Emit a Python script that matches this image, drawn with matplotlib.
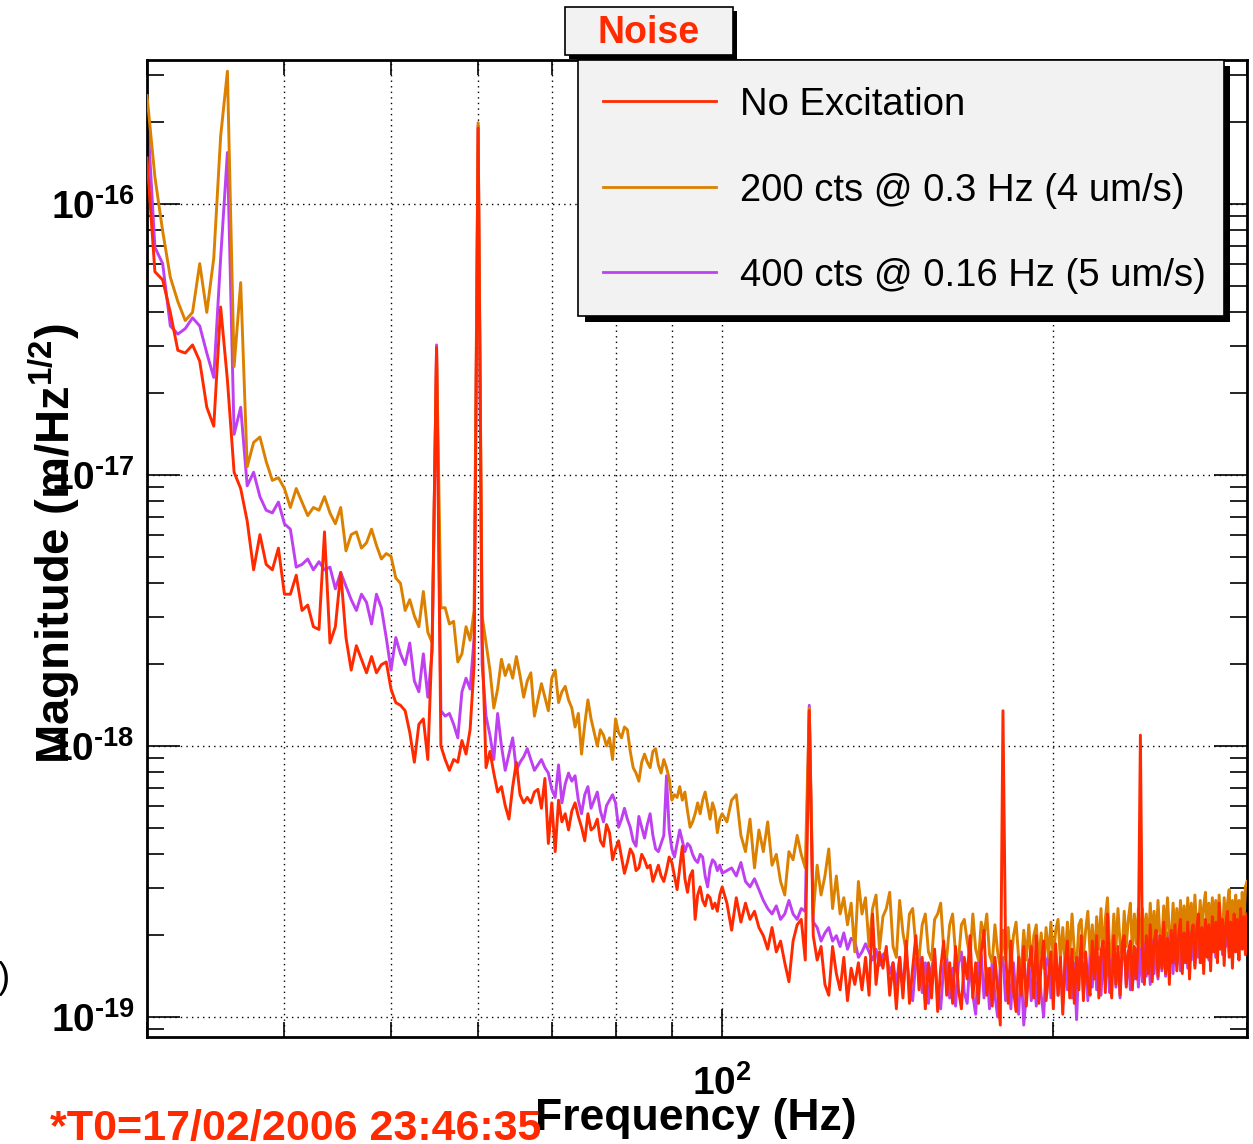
import matplotlib
matplotlib.use('Agg')
import matplotlib.pyplot as plt
from matplotlib.patches import Rectangle
from matplotlib.lines import Line2D
from matplotlib.ticker import FixedLocator, NullFormatter, FixedFormatter
import numpy as np

plt.rcParams['font.family'] = ['Liberation Sans', 'DejaVu Sans']
plt.rcParams['mathtext.fontset'] = 'custom'
plt.rcParams['mathtext.rm'] = 'Liberation Sans:bold'
plt.rcParams['mathtext.bf'] = 'Liberation Sans:bold'
plt.rcParams['mathtext.it'] = 'Liberation Sans:bold'

# ---------------- data (log10 of magnitude, m/Hz^1/2) ----------------
freq_a = [30.0, 30.5, 31.0, 31.5, 32.0, 32.5, 33.0, 33.5, 34.0, 34.5,
          35.0, 35.5, 36.0, 36.5, 37.0, 37.5, 38.0, 38.5, 39.0, 39.5,
          40.0, 40.5, 41.0, 41.5, 42.0, 42.5, 43.0, 43.5, 44.0, 44.5,
          45.0, 45.5, 46.0, 46.5, 47.0, 47.5, 48.0, 48.5, 49.0, 49.5,
          50.0, 50.5, 51.0, 51.5, 52.0, 52.5, 53.0, 53.5, 54.0, 54.5,
          55.0, 55.5, 56.0, 56.5, 57.0, 57.5, 58.0, 58.5, 59.0, 59.5,
          60.0]
freq_b = [60.5, 61.0, 61.5, 62.0, 62.5, 63.0, 63.5, 64.0, 64.5, 65.0,
          65.5, 66.0, 66.5, 67.0, 67.5, 68.0, 68.5, 69.0, 69.5, 70.0,
          70.5, 71.0, 71.5, 72.0, 72.5, 73.0, 73.5, 74.0, 74.5, 75.0,
          75.5, 76.0, 76.5, 77.0, 77.5, 78.0, 78.5, 79.0, 79.5, 80.0,
          80.5, 81.0, 81.5, 82.0, 82.5, 83.0, 83.5, 84.0, 84.5, 85.0,
          85.5, 86.0, 86.5, 87.0, 87.5, 88.0, 88.5, 89.0, 89.5, 90.0,
          90.5, 91.0, 91.5, 92.0, 92.5, 93.0, 93.5, 94.0, 94.5, 95.0,
          95.5, 96.0, 96.5, 97.0, 97.5, 98.0, 98.5, 99.0, 99.5, 100.0]
freq_c = [101, 102, 103, 104, 105, 106, 107, 108, 109, 110,
          111, 112, 113, 114, 115, 116, 117, 118, 119, 120,
          121, 122, 123, 124, 125, 126, 127, 128, 129, 130,
          131, 132, 133, 134, 135, 136, 137, 138, 139, 140,
          141, 142, 143, 144, 145, 146, 147, 148, 149, 150,
          151, 152, 153, 154, 155, 156, 157, 158, 159, 160,
          161, 162, 163, 164, 165, 166, 167, 168, 169, 170,
          171, 172, 173, 174, 175, 176, 177, 178, 179, 180,
          181, 182, 183, 184, 185, 186, 187, 188, 189, 190,
          191, 192, 193, 194, 195, 196, 197, 198, 199, 200,
          201, 202, 203, 204, 205, 206, 207, 208, 209, 210,
          211, 212, 213, 214, 215, 216, 217, 218, 219, 220,
          221, 222, 223, 224, 225, 226, 227, 228, 229, 230,
          231, 232, 233, 234, 235, 236, 237, 238, 239, 240,
          241, 242, 243, 244, 245, 246, 247, 248, 249, 250,
          251, 252, 253, 254, 255, 256, 257, 258, 259, 260,
          261, 262, 263, 264, 265, 266, 267, 268, 269, 270,
          271, 272, 273, 274, 275, 276, 277, 278, 279, 280,
          281, 282, 283, 284, 285, 286, 287, 288, 289, 290,
          291, 292, 293, 294, 295, 296, 297, 298, 299, 300]

# No Excitation (red)
red_a = [-15.83, -16.25, -16.28, -16.40, -16.54, -16.55, -16.52, -16.58, -16.75, -16.82,
         -16.38, -16.65, -16.99, -17.05, -17.17, -17.35, -17.22, -17.33, -17.35, -17.27,
         -17.44, -17.44, -17.37, -17.50, -17.48, -17.56, -17.57, -17.21, -17.62, -17.56,
         -17.36, -17.60, -17.72, -17.63, -17.68, -17.73, -17.67, -17.73, -17.70, -17.69,
         -17.79, -17.84, -17.85, -17.87, -17.95, -18.06, -17.92, -17.90, -18.05, -17.60,
         -16.53, -18.00, -18.05, -18.09, -18.05, -18.06, -17.98, -18.03, -17.94, -17.70,
         -15.72]
red_b = [-17.60, -18.08, -18.02, -18.10, -18.17, -18.15, -18.22, -18.27, -18.15, -18.06,
         -18.18, -18.21, -18.19, -18.21, -18.17, -18.16, -18.23, -18.12, -18.36, -18.21,
         -18.39, -18.20, -18.28, -18.25, -18.31, -18.24, -18.21, -18.26, -18.30, -18.35,
         -18.25, -18.31, -18.30, -18.27, -18.35, -18.37, -18.29, -18.32, -18.42, -18.38,
         -18.35, -18.41, -18.47, -18.43, -18.38, -18.40, -18.46, -18.45, -18.40, -18.42,
         -18.45, -18.44, -18.50, -18.47, -18.44, -18.48, -18.50, -18.46, -18.41, -18.43,
         -18.48, -18.53, -18.45, -18.37, -18.49, -18.54, -18.48, -18.46, -18.64, -18.55,
         -18.52, -18.57, -18.59, -18.55, -18.56, -18.60, -18.58, -18.61, -18.55, -18.52]
red_c = [-18.58, -18.68, -18.56, -18.65, -18.58, -18.64, -18.61, -18.67, -18.70, -18.75,
         -18.67, -18.76, -18.72, -18.80, -18.87, -18.72, -18.66, -18.64, -18.79, -17.87,
         -18.70, -18.79, -18.74, -18.88, -18.92, -18.74, -18.84, -18.90, -18.78, -18.94,
         -18.82, -18.88, -18.80, -18.90, -18.78, -18.92, -18.62, -18.88, -18.76, -18.82,
         -18.74, -18.92, -18.80, -18.97, -18.78, -18.93, -18.72, -18.95, -18.82, -18.70,
         -18.90, -18.78, -18.97, -18.80, -18.93, -18.75, -18.98, -18.82, -18.72, -18.92,
         -18.80, -18.95, -18.74, -18.90, -18.97, -18.78, -18.86, -18.70, -18.93, -18.80,
         -18.95, -18.76, -18.68, -18.92, -18.82, -18.96, -18.78, -18.90, -19.03, -17.87,
         -18.76, -18.95, -18.72, -18.90, -18.98, -18.78, -18.92, -18.74, -18.96, -18.82,
         -18.74, -18.93, -18.70, -18.95, -18.80, -18.72, -18.94, -18.85, -18.76, -18.97,
         -18.73, -18.92, -18.78, -18.99, -18.80, -18.72, -18.93, -18.75, -18.95, -18.78,
         -18.90, -18.70, -18.94, -18.76, -18.88, -18.92, -18.72, -18.86, -18.70, -18.93,
         -18.76, -18.72, -18.91, -18.62, -18.84, -18.93, -18.70, -18.88, -18.74, -18.92,
         -18.73, -18.70, -18.89, -18.76, -18.72, -18.90, -18.74, -18.86, -18.70, -17.96,
         -18.76, -18.88, -18.70, -18.84, -18.66, -18.87, -18.72, -18.68, -18.85, -18.70,
         -18.82, -18.65, -18.84, -18.71, -18.88, -18.68, -18.80, -18.66, -18.83, -18.70,
         -18.64, -18.84, -18.69, -18.80, -18.65, -18.86, -18.70, -18.66, -18.82, -18.68,
         -18.62, -18.80, -18.67, -18.84, -18.64, -18.78, -18.66, -18.83, -18.63, -18.76,
         -18.65, -18.80, -18.58, -18.75, -18.64, -18.81, -18.66, -18.61, -18.78, -18.65,
         -18.82, -18.62, -18.76, -18.64, -18.79, -18.60, -18.75, -18.63, -18.77, -18.62]

# 200 cts @ 0.3 Hz (orange)
orange_a = [-15.60, -15.90, -16.10, -16.27, -16.36, -16.43, -16.40, -16.22, -16.40, -16.20,
            -15.75, -15.51, -16.60, -16.29, -16.97, -16.88, -16.86, -16.95, -17.02, -17.01,
            -17.05, -17.12, -17.05, -17.10, -17.15, -17.12, -17.13, -17.08, -17.14, -17.18,
            -17.12, -17.28, -17.22, -17.21, -17.27, -17.25, -17.20, -17.26, -17.31, -17.29,
            -17.30, -17.38, -17.40, -17.50, -17.46, -17.52, -17.56, -17.43, -17.58, -17.62,
            -16.54, -17.49, -17.49, -17.55, -17.54, -17.69, -17.66, -17.56, -17.61, -17.50,
            -15.70]
orange_b = [-17.52, -17.62, -17.72, -17.86, -17.79, -17.68, -17.74, -17.70, -17.75, -17.67,
            -17.74, -17.82, -17.76, -17.73, -17.89, -17.83, -17.77, -17.82, -17.87, -17.75,
            -17.72, -17.84, -17.80, -17.78, -17.83, -17.86, -17.93, -17.88, -18.03, -17.92,
            -17.83, -17.90, -17.95, -18.00, -17.94, -17.96, -18.00, -17.97, -18.05, -17.90,
            -17.95, -17.97, -17.93, -17.94, -18.02, -18.08, -18.10, -18.13, -18.06, -18.03,
            -18.06, -18.08, -18.02, -18.01, -18.07, -18.10, -18.05, -18.08, -18.12, -18.20,
            -18.18, -18.19, -18.15, -18.20, -18.17, -18.24, -18.30, -18.28, -18.25, -18.21,
            -18.25, -18.20, -18.17, -18.22, -18.27, -18.21, -18.24, -18.32, -18.27, -18.25]
orange_c = [-18.28, -18.20, -18.18, -18.33, -18.39, -18.27, -18.45, -18.31, -18.39, -18.28,
            -18.44, -18.40, -18.50, -18.55, -18.39, -18.42, -18.33, -18.40, -18.45, -17.86,
            -18.62, -18.44, -18.55, -18.48, -18.38, -18.60, -18.48, -18.62, -18.56, -18.66,
            -18.58, -18.76, -18.50, -18.62, -18.56, -18.74, -18.60, -18.55, -18.75, -18.63,
            -18.60, -18.54, -18.74, -18.78, -18.57, -18.69, -18.76, -18.62, -18.60, -18.74,
            -18.78, -18.66, -18.62, -18.76, -18.79, -18.64, -18.62, -18.58, -18.75, -18.78,
            -18.66, -18.62, -18.77, -18.79, -18.66, -18.64, -18.72, -18.78, -18.62, -18.75,
            -18.79, -18.65, -18.70, -18.62, -18.77, -18.80, -18.66, -18.76, -18.82, -18.68,
            -18.79, -18.67, -18.81, -18.70, -18.65, -18.78, -18.83, -18.68, -18.79, -18.66,
            -18.81, -18.70, -18.66, -18.80, -18.69, -18.82, -18.67, -18.78, -18.65, -18.79,
            -18.68, -18.64, -18.79, -18.67, -18.80, -18.65, -18.77, -18.62, -18.76, -18.81,
            -18.66, -18.64, -18.78, -18.68, -18.61, -18.77, -18.66, -18.79, -18.63, -18.75,
            -18.60, -18.77, -18.64, -18.56, -18.74, -18.78, -18.62, -18.75, -18.60, -18.73,
            -18.77, -18.61, -18.74, -18.64, -18.58, -18.76, -18.62, -18.73, -18.60, -18.74,
            -18.60, -18.72, -18.62, -18.75, -18.58, -18.71, -18.61, -18.74, -18.57, -18.70,
            -18.73, -18.59, -18.71, -18.56, -18.69, -18.72, -18.58, -18.70, -18.60, -18.73,
            -18.57, -18.69, -18.59, -18.72, -18.56, -18.68, -18.58, -18.71, -18.55, -18.67,
            -18.69, -18.57, -18.70, -18.59, -18.54, -18.68, -18.58, -18.71, -18.56, -18.67,
            -18.57, -18.69, -18.55, -18.66, -18.71, -18.56, -18.68, -18.58, -18.53, -18.67,
            -18.57, -18.69, -18.55, -18.66, -18.57, -18.68, -18.54, -18.65, -18.52, -18.50]

# 400 cts @ 0.16 Hz (purple)
purple_a = [-15.64, -16.16, -16.22, -16.45, -16.48, -16.46, -16.42, -16.45, -16.55, -16.64,
            -16.20, -15.81, -16.85, -16.75, -17.04, -16.99, -17.08, -17.13, -17.14, -17.10,
            -17.18, -17.20, -17.34, -17.33, -17.31, -17.35, -17.32, -17.35, -17.34, -17.42,
            -17.36, -17.41, -17.46, -17.50, -17.44, -17.47, -17.55, -17.44, -17.49, -17.60,
            -17.72, -17.60, -17.66, -17.70, -17.62, -17.76, -17.80, -17.66, -17.82, -17.65,
            -16.52, -17.87, -17.89, -17.88, -17.92, -17.97, -17.80, -17.75, -17.79, -17.60,
            -15.71]
purple_b = [-17.70, -17.89, -17.96, -18.05, -17.88, -18.00, -18.09, -18.03, -17.97, -18.09,
            -18.06, -18.04, -18.01, -18.05, -18.09, -18.07, -18.05, -18.08, -18.10, -18.16,
            -18.19, -18.07, -18.21, -18.14, -18.10, -18.13, -18.11, -18.20, -18.25, -18.18,
            -18.15, -18.23, -18.20, -18.17, -18.24, -18.28, -18.22, -18.20, -18.18, -18.21,
            -18.30, -18.27, -18.23, -18.27, -18.30, -18.35, -18.37, -18.26, -18.30, -18.34,
            -18.29, -18.25, -18.33, -18.38, -18.39, -18.36, -18.33, -18.11, -18.31, -18.38,
            -18.41, -18.36, -18.31, -18.35, -18.39, -18.36, -18.37, -18.40, -18.42, -18.43,
            -18.40, -18.41, -18.48, -18.52, -18.45, -18.42, -18.43, -18.46, -18.44, -18.47]
purple_c = [-18.46, -18.45, -18.48, -18.43, -18.50, -18.52, -18.49, -18.53, -18.57, -18.60,
            -18.62, -18.59, -18.64, -18.62, -18.57, -18.62, -18.64, -18.60, -18.61, -17.85,
            -18.65, -18.67, -18.72, -18.69, -18.67, -18.72, -18.70, -18.74, -18.69, -18.75,
            -18.71, -18.72, -18.78, -18.76, -18.73, -18.76, -18.79, -18.75, -18.81, -18.77,
            -18.76, -18.84, -18.80, -18.88, -18.78, -18.90, -18.76, -18.88, -18.94, -18.79,
            -18.76, -18.91, -18.80, -18.95, -18.82, -18.77, -18.92, -18.97, -18.81, -18.78,
            -18.93, -18.82, -18.96, -18.80, -18.76, -18.91, -18.95, -18.79, -18.92, -18.99,
            -18.80, -18.77, -18.93, -18.82, -18.97, -18.79, -18.92, -19.00, -18.81, -18.78,
            -18.94, -18.83, -18.97, -18.80, -18.93, -18.99, -18.82, -19.03, -18.92, -18.79,
            -18.94, -18.82, -18.96, -18.80, -18.92, -19.00, -18.81, -18.77, -18.93, -18.82,
            -18.76, -18.92, -18.80, -18.95, -18.78, -18.90, -18.75, -18.93, -18.80, -19.01,
            -18.79, -18.76, -18.91, -18.78, -18.94, -18.77, -18.89, -18.74, -18.90, -18.78,
            -18.92, -18.76, -18.88, -18.75, -18.91, -18.78, -18.73, -18.89, -18.76, -18.93,
            -18.77, -18.74, -18.88, -18.76, -18.90, -18.73, -18.86, -18.75, -18.89, -18.74,
            -18.87, -18.72, -18.85, -18.74, -18.88, -18.71, -18.84, -18.73, -18.86, -18.70,
            -18.83, -18.72, -18.85, -18.69, -18.82, -18.71, -18.84, -18.68, -18.81, -18.70,
            -18.83, -18.67, -18.80, -18.69, -18.82, -18.66, -18.79, -18.68, -18.81, -18.66,
            -18.78, -18.67, -18.80, -18.65, -18.77, -18.66, -18.79, -18.64, -18.76, -18.66,
            -18.78, -18.63, -18.75, -18.65, -18.77, -18.62, -18.74, -18.64, -18.76, -18.61,
            -18.73, -18.63, -18.75, -18.60, -18.72, -18.62, -18.74, -18.59, -18.71, -18.61]

labels = ['No Excitation', '200 cts @ 0.3 Hz (4 um/s)', '400 cts @ 0.16 Hz (5 um/s)']
colors = ['#ff2a00', '#dc8000', '#bf40f0']
y_tick_vals = [1e-19, 1e-18, 1e-17, 1e-16]
y_tick_text = [r'$10^{\text{-}19}$', r'$10^{\text{-}18}$', r'$10^{\text{-}17}$', r'$10^{\text{-}16}$']
x_tick_vals = [100]
x_tick_text = [r'$10^{2}$']

freq = np.array(freq_a + freq_b + freq_c, dtype=float)
red = 10.0 ** np.array(red_a + red_b + red_c)
orange = 10.0 ** np.array(orange_a + orange_b + orange_c)
purple = 10.0 ** np.array(purple_a + purple_b + purple_c)

# ---------------- figure ----------------
W, H = 1253, 1144
fig = plt.figure(figsize=(W / 100, H / 100), dpi=100)
fig.patch.set_facecolor('white')


def fx(x):
    return x / W


def fy(y):
    return 1 - y / H


ax = fig.add_axes([fx(147), fy(1037), fx(1247) - fx(147), fy(60) - fy(1037)])
ax.set_xscale('log')
ax.set_yscale('log')

ax.plot(freq, purple, color=colors[2], lw=2.1, zorder=2)
ax.plot(freq, orange, color=colors[1], lw=2.1, zorder=3)
ax.plot(freq, red, color=colors[0], lw=2.1, zorder=4)

ax.set_xlim(30, 300)
ax.set_ylim(10 ** -19.074, 10 ** -15.4686)

ax.xaxis.set_major_locator(FixedLocator(x_tick_vals))
ax.xaxis.set_major_formatter(FixedFormatter(x_tick_text))
ax.xaxis.set_minor_locator(FixedLocator([30, 40, 50, 60, 70, 80, 90, 200, 300]))
ax.xaxis.set_minor_formatter(NullFormatter())

ymin_ticks = []
for d in [1e-20, 1e-19, 1e-18, 1e-17, 1e-16]:
    for k in range(2, 10):
        ymin_ticks.append(k * d)
ax.yaxis.set_major_locator(FixedLocator(y_tick_vals))
ax.yaxis.set_major_formatter(FixedFormatter(y_tick_text))
ax.yaxis.set_minor_locator(FixedLocator(ymin_ticks))
ax.yaxis.set_minor_formatter(NullFormatter())

grid_style = dict(color='black', linestyle=(0, (1, 3)), linewidth=1.0)
ax.grid(True, which='both', axis='x', **grid_style)
ax.grid(True, which='major', axis='y', **grid_style)
ax.set_axisbelow(True)

ax.tick_params(axis='both', which='both', direction='in', top=True, right=True,
               colors='black', width=1.2)
ax.tick_params(axis='y', which='major', length=24, labelsize=28, pad=9)
ax.tick_params(axis='y', which='minor', length=12)
ax.tick_params(axis='x', which='major', length=20, labelsize=28, pad=20)
ax.tick_params(axis='x', which='minor', length=11)
for sp in ax.spines.values():
    sp.set_linewidth(2.0)

# ---------------- axis titles & annotations ----------------
fig.text(fx(696), fy(1130), 'Frequency (Hz)', fontsize=32, fontweight='bold',
         ha='center', va='baseline')
fig.text(fx(54), fy(543), r'Magnitude (m/Hz$^{1/2}$)', fontsize=34, fontweight='bold',
         rotation=90, ha='center', va='center')
fig.text(fx(50), fy(1140), '*T0=17/02/2006 23:46:35', fontsize=31, fontweight='bold',
         color=colors[0], ha='left', va='baseline')
fig.text(fx(10), fy(978), ')', fontsize=26, ha='right', va='center')


def rect(x0, y0, x1, y1, **kw):
    return Rectangle((fx(x0), fy(y1)), fx(x1) - fx(x0), fy(y0) - fy(y1),
                     transform=fig.transFigure, **kw)


# title box
fig.add_artist(rect(569, 11, 737, 59, facecolor='black', edgecolor='none', zorder=10))
fig.add_artist(rect(565, 7, 733, 55, facecolor='#f2f2f2', edgecolor='black', lw=1.2, zorder=11))
fig.text(fx(649), fy(43), 'Noise', fontsize=27, fontweight='bold', color=colors[0],
         ha='center', va='baseline', zorder=12)

# legend box
fig.add_artist(rect(585, 66, 1230, 322, facecolor='black', edgecolor='none', zorder=10))
fig.add_artist(rect(578, 60, 1224, 316, facecolor='#f2f2f2', edgecolor='black', lw=1.2, zorder=11))
for i, (lab, col) in enumerate(zip(labels, colors)):
    yc = [101, 187, 272][i]
    fig.add_artist(Line2D([fx(603), fx(716)], [fy(yc), fy(yc)], transform=fig.transFigure,
                          color=col, lw=2.0, zorder=12))
    fig.text(fx(740), fy(yc + 14), lab, fontsize=27.5, color='black',
             ha='left', va='baseline', zorder=12)

fig.savefig('out.png', dpi=100)
